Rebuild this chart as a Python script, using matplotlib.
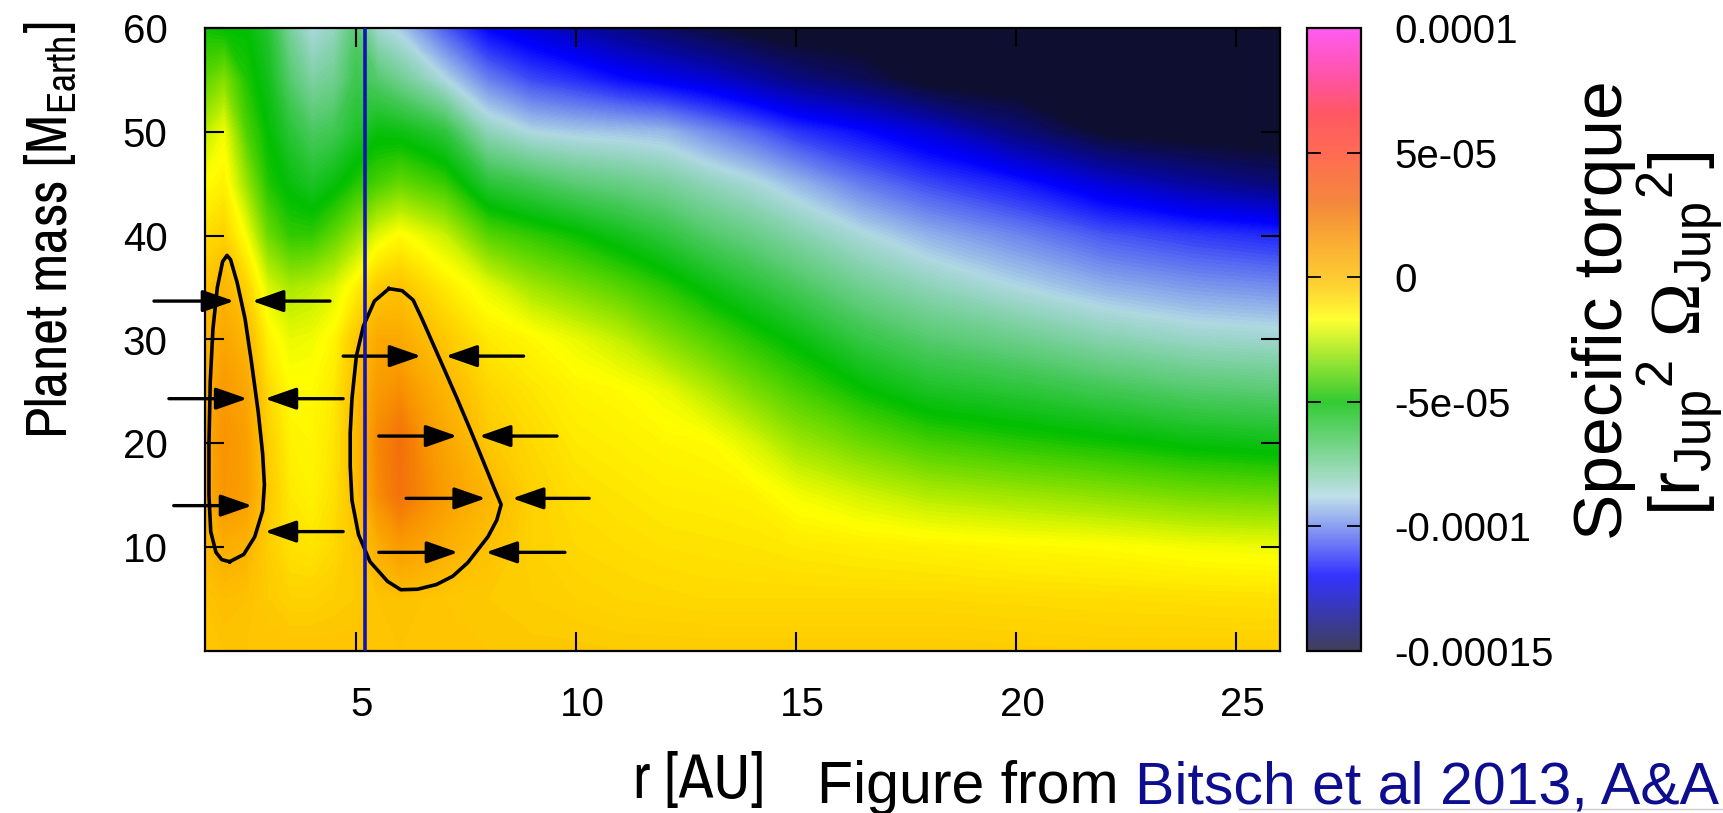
import os
import numpy as np
import matplotlib
matplotlib.use("Agg")
import matplotlib.pyplot as plt
from matplotlib.colors import LinearSegmentedColormap, Normalize
from matplotlib.cm import ScalarMappable
from matplotlib.lines import Line2D
from matplotlib import font_manager
from matplotlib.font_manager import FontProperties
from matplotlib.ft2font import FT2Font
import matplotlib.transforms as mtransforms

plt.rcParams['font.family'] = ['Liberation Sans', 'DejaVu Sans']
plt.rcParams['axes.unicode_minus'] = False
plt.rcParams['mathtext.default'] = 'regular'
plt.rcParams['mathtext.fontset'] = 'custom'
plt.rcParams['mathtext.rm'] = 'Liberation Serif'

# ---------------- data (torque in units of 1e-5) ----------------
TORQUE_UNIT = 1e-5
r_au = [1.57, 2.0, 2.5, 3.0, 3.5, 4.0, 4.5, 5.0, 5.5, 6.0, 6.5, 7.0, 8.0, 9.0,
        10.0, 11.0, 12.0, 13.0, 14.0, 15.0, 16.5, 18.0, 20.0, 22.0, 24.0, 26.0]
mass_earth = [0, 5, 10, 15, 20, 25, 30, 35, 40, 45, 50, 55, 60]

torque_m00 = [-0.2, -0.2, -0.2, -0.2, -0.2, -0.2, -0.2, -0.2, -0.2, -0.2, -0.2, -0.2, -0.3,
              -0.35, -0.35, -0.4, -0.4, -0.4, -0.4, -0.4, -0.4, -0.4, -0.45, -0.5, -0.5, -0.5]
torque_m05 = [-0.2, 0.0, -0.1, -0.4, -0.6, -0.6, -0.5, -0.4, -0.2, -0.1, -0.2, -0.3, -0.4,
              -0.5, -0.6, -0.7, -0.75, -0.8, -0.8, -0.8, -0.8, -0.8, -0.85, -0.9, -0.95, -1.0]
torque_m10 = [0.2, 0.6, 0.4, -0.5, -1.0, -1.1, -0.8, -0.3, 0.6, 1.3, 1.0, 0.6, -0.1,
              -0.6, -0.8, -0.9, -1.0, -1.05, -1.1, -1.2, -1.3, -1.4, -1.55, -1.65, -1.85, -1.95]
torque_m15 = [0.6, 1.5, 1.2, -0.3, -1.2, -1.4, -1.0, 0.0, 1.8, 2.7, 2.0, 1.3, 0.3,
              -0.6, -0.95, -1.1, -1.25, -1.3, -1.4, -1.85, -2.3, -2.7, -2.95, -3.2, -3.5, -3.65]
torque_m20 = [0.7, 1.6, 1.2, -0.5, -1.4, -1.5, -1.1, 0.1, 2.0, 2.8, 1.8, 1.0, -0.3,
              -0.8, -1.2, -1.35, -1.5, -1.6, -2.2, -2.95, -3.6, -4.15, -4.5, -4.8, -5.15, -5.35]
torque_m25 = [0.6, 1.4, 0.9, -0.8, -1.6, -1.6, -1.2, 0.0, 1.4, 1.8, 1.0, 0.4, -0.7,
              -1.1, -1.45, -1.6, -1.95, -2.65, -3.4, -4.05, -4.9, -5.55, -5.9, -6.35, -6.75, -6.9]
torque_m30 = [0.3, 0.9, 0.3, -1.4, -2.0, -1.9, -1.5, -0.3, 0.8, 0.8, 0.2, -0.3, -1.2,
              -1.55, -2.0, -2.5, -3.25, -3.9, -4.55, -5.15, -6.15, -6.8, -7.3, -7.9, -8.3, -8.45]
torque_m35 = [-0.2, 0.3, -0.6, -2.2, -2.8, -2.6, -2.2, -1.4, -0.4, -0.2, -0.7, -1.2, -2.05,
              -2.9, -3.4, -3.9, -4.5, -5.2, -5.85, -6.5, -7.4, -8.05, -8.75, -9.35, -9.7, -9.9]
torque_m40 = [-0.9, -0.6, -1.8, -3.6, -4.4, -4.4, -3.8, -3.0, -2.1, -1.6, -2.0, -2.4, -3.9,
              -4.4, -4.85, -5.4, -6.0, -6.7, -7.2, -7.8, -8.65, -9.35, -10.0, -10.7, -11.1, -11.4]
torque_m45 = [-1.7, -1.4, -3.0, -4.6, -5.2, -5.6, -5.2, -4.6, -4.1, -3.7, -4.0, -4.3, -5.9,
              -6.4, -6.9, -7.2, -7.55, -8.1, -8.6, -9.25, -10.2, -10.9, -11.6, -12.6, -13.4, -14.0]
torque_m50 = [-2.6, -1.9, -4.0, -5.0, -5.9, -6.6, -6.4, -5.7, -5.2, -5.3, -5.6, -6.0, -8.1,
              -8.8, -9.0, -9.1, -9.25, -9.9, -10.5, -11.2, -11.85, -12.6, -13.9, -15.1, -15.4, -15.5]
torque_m55 = [-3.8, -3.3, -4.6, -5.4, -6.8, -7.7, -7.4, -6.3, -6.8, -7.4, -8.0, -8.7, -10.1,
              -10.9, -11.3, -11.8, -12.2, -12.6, -13.2, -13.8, -14.4, -15.3, -15.5, -15.5, -15.5, -15.5]
torque_m60 = [-4.8, -5.0, -5.0, -5.8, -7.6, -8.7, -8.2, -6.8, -8.5, -9.0, -9.8, -10.6, -12.0,
              -12.6, -13.2, -13.8, -14.3, -14.8, -15.2, -15.5, -15.5, -15.5, -15.5, -15.5, -15.5, -15.5]

# zero-torque outlines (r [AU], mass [M_Earth])
inner_lobe_r = [2.13, 2.45, 2.70, 2.88, 2.92, 2.88, 2.78, 2.62, 2.48, 2.30, 2.15, 2.07,
                1.97, 1.85, 1.75, 1.69, 1.66, 1.66, 1.70, 1.82, 1.95, 2.13]
inner_lobe_m = [8.6, 9.3, 11.0, 13.5, 16.0, 19.0, 23.0, 28.0, 32.0, 35.5, 37.7, 38.1,
                37.5, 35.0, 31.0, 26.0, 20.0, 15.0, 11.5, 9.5, 8.8, 8.6]
outer_lobe_r = [5.75, 6.05, 6.30, 6.50, 6.75, 7.00, 7.30, 7.60, 7.90, 8.15, 8.30, 8.20,
                8.00, 7.54, 7.20, 6.83, 6.40, 6.02, 5.72, 5.32, 5.06, 4.91, 4.87, 4.87,
                4.91, 5.01, 5.17, 5.42, 5.75]
outer_lobe_m = [34.9, 34.7, 33.8, 32.0, 29.6, 27.2, 24.3, 21.3, 18.2, 15.6, 14.1, 12.6,
                11.0, 8.5, 7.2, 6.4, 5.95, 5.9, 6.7, 8.6, 11.2, 14.5, 17.8, 21.0,
                24.3, 28.4, 31.3, 33.7, 34.9]

# migration arrows: tail r, tip r, mass
arrow_tail_r = [0.41, 4.41, 4.71, 8.81, 0.75, 4.71, 5.52, 9.57, 0.86, 6.14, 10.3, 4.71, 5.52, 9.75]
arrow_tip_r = [2.23, 2.64, 6.48, 7.04, 2.53, 2.93, 7.30, 7.80, 2.64, 7.95, 8.55, 2.93, 7.32, 7.95]
arrow_mass = [33.7, 33.7, 28.4, 28.4, 24.3, 24.3, 20.7, 20.7, 14.0, 14.7, 14.7, 11.5, 9.5, 9.5]

jupiter_r = 5.2

x_ticks = [5, 10, 15, 20, 25]
y_ticks = [10, 20, 30, 40, 50, 60]
cbar_ticks = [-1.5e-4, -1e-4, -5e-5, 0, 5e-5, 1e-4]
cbar_ticklabels = ['-0.00015', '-0.0001', '-5e-05', '0', '5e-05', '0.0001']

# palette (value in 1e-5 -> colour)
palette_values = [-15, -12, -8.8, -5, -1.7, -0.7, 0, 1.5, 3, 5, 6.6, 8, 10]
palette_colors = ['#0e0e30', '#0000ff', '#b0d8e4', '#00be00', '#ffff00', '#ffd400',
                  '#fdbe00', '#f99600', '#f26a0c', '#ff4628', '#ff2d3c', '#ff288c', '#ff32f0']

YLABEL = 'Planet mass [M$_{Earth}$]'
XLABEL = 'r [AU]'

# ---------------- figure ----------------
W, H = 1724, 813
fig = plt.figure(figsize=(W / 100, H / 100), dpi=100)
renderer = fig.canvas.get_renderer()


def fx(px):
    return px / W


def fy(py):
    return 1 - py / H


def regular_weight(fname):
    try:
        sn = FT2Font(fname).style_name.lower().replace(' ', '').replace('-', '')
    except Exception:
        return False
    base = os.path.basename(fname).lower()
    bad = ('bold', 'black', 'heavy', 'medium', 'light', 'thin', 'italic', 'oblique', 'book')
    return not any(k in sn or k in base for k in bad)


def narrow_font():
    """Regular-weight narrow sans (Liberation Sans Narrow if present)."""
    rank = {'condensed': 0, 'semi-condensed': 1}
    best = None
    for f in font_manager.fontManager.ttflist:
        st = f.stretch
        if not isinstance(st, str) or st not in rank:
            continue
        if f.style != 'normal' or str(f.weight) not in ('400', 'normal', 'regular'):
            continue
        if any(k in f.name for k in ('CJK', 'Mono', 'Serif', 'Math')):
            continue
        if not regular_weight(f.fname):
            continue
        key = (0 if 'Liberation' in f.name else 1, rank[st], f.name)
        if best is None or key < best[0]:
            best = (key, f.fname)
    return best[1] if best else None


title_file = narrow_font()


def props(size):
    if title_file:
        return FontProperties(fname=title_file, size=size)
    return FontProperties(family=['Liberation Sans', 'DejaVu Sans'], size=size)


def fitted_text(x, y, s, target_px, max_size, axis, **kw):
    t = fig.text(x, y, s, fontproperties=props(40), **kw)
    bb = t.get_window_extent(renderer)
    ext = bb.height if axis == 'v' else bb.width
    t.set_fontproperties(props(min(max_size, 40 * target_px / ext)))
    return t


vmin, vmax = palette_values[0] * TORQUE_UNIT, palette_values[-1] * TORQUE_UNIT
pos = [(v - palette_values[0]) / (palette_values[-1] - palette_values[0]) for v in palette_values]
cmap = LinearSegmentedColormap.from_list('torque', list(zip(pos, palette_colors)), N=512)
norm = Normalize(vmin=vmin, vmax=vmax)

ax = fig.add_axes([fx(205), fy(651), fx(1280) - fx(205), fy(28) - fy(651)])
cax = fig.add_axes([fx(1307), fy(651), fx(1361) - fx(1307), fy(28) - fy(651)])

R, M = np.meshgrid(r_au, mass_earth)
T = np.array([torque_m00, torque_m05, torque_m10, torque_m15, torque_m20, torque_m25,
              torque_m30, torque_m35, torque_m40, torque_m45, torque_m50, torque_m55,
              torque_m60]) * TORQUE_UNIT
levels = np.linspace(-1.6e-4, 1.0e-4, 261)
ax.contourf(R, M, T, levels=levels, cmap=cmap, norm=norm, antialiased=False)

ax.plot(inner_lobe_r, inner_lobe_m, color='black', lw=2.6, solid_joinstyle='round')
ax.plot(outer_lobe_r, outer_lobe_m, color='black', lw=2.6, solid_joinstyle='round')
ax.axvline(jupiter_r, color='#1414b0', lw=2.6, zorder=4)

for t, h, m in zip(arrow_tail_r, arrow_tip_r, arrow_mass):
    ann = ax.annotate('', xy=(h, m), xytext=(t, m), annotation_clip=False,
                      arrowprops=dict(arrowstyle='-|>,head_length=1.2,head_width=0.42',
                                      mutation_scale=16, lw=2.4, color='black',
                                      shrinkA=0, shrinkB=0))
    ann.arrow_patch.set_clip_on(False)

ax.set_xlim(1.57, 26)
ax.set_ylim(0, 60)
ax.set_xticks(x_ticks)
ax.set_yticks(y_ticks)
ax.tick_params(direction='in', length=14, width=1.5, top=True, right=True,
               labelsize=29, colors='black')
ax.tick_params(axis='x', pad=25)
ax.tick_params(axis='y', pad=27)
for s in ax.spines.values():
    s.set_linewidth(1.6)
shift = mtransforms.ScaledTranslation(6 / 100, 0, fig.dpi_scale_trans)
for lab in ax.get_xticklabels():
    lab.set_transform(lab.get_transform() + shift)

cb = fig.colorbar(ScalarMappable(norm=norm, cmap=cmap), cax=cax, alpha=0.8)
cb.set_ticks(cbar_ticks, labels=cbar_ticklabels)
cax.tick_params(direction='in', length=10, width=1.3, left=True, right=True,
                labelsize=29, pad=24)
cb.outline.set_linewidth(1.6)

# axis titles (narrow lettering as in the reference)
fitted_text(fx(50), fy(230), YLABEL, 418, 50, 'v', rotation=90, ha='center', va='center')
fitted_text(fx(699), fy(798), XLABEL, 132, 50, 'h', ha='center', va='baseline')
fig.text(fx(1604), fy(310), 'Specific torque', rotation=90, ha='center', va='center',
         fontsize=50)
fig.text(fx(1681), fy(334), r'[r$_{Jup}$$^{2}$ $\mathrm{\Omega}_{Jup}$$^{2}$]',
         rotation=90, ha='center', va='center', fontsize=52)

# source note: fit "Figure from Bitsch et al 2013, A&A" into x = 819 .. 1719 px
fig.add_artist(Line2D([fx(1239), 1.0], [fy(809), fy(809)], color='#cfcfcf', lw=1.0))
probe_a = fig.text(0, 0, 'Figure from', fontsize=40)
probe_b = fig.text(0, 0, 'Bitsch et al 2013, A&A', fontsize=40)
wa = probe_a.get_window_extent(renderer).width
wb = probe_b.get_window_extent(renderer).width
probe_a.remove()
probe_b.remove()
note_size = 40 * 900 / (wa + wb + 0.278 * 40 * 100 / 72)
t_blue = fig.text(fx(1719), fy(803), 'Bitsch et al 2013, A&A', ha='right', va='baseline',
                  fontsize=note_size, color='#0d0d8f')
bb = t_blue.get_window_extent(renderer)
fig.text((bb.x0 - 0.278 * note_size * 100 / 72) / W, fy(803), 'Figure from', ha='right',
         va='baseline', fontsize=note_size, color='black')

fig.savefig('out.png', dpi=100)
